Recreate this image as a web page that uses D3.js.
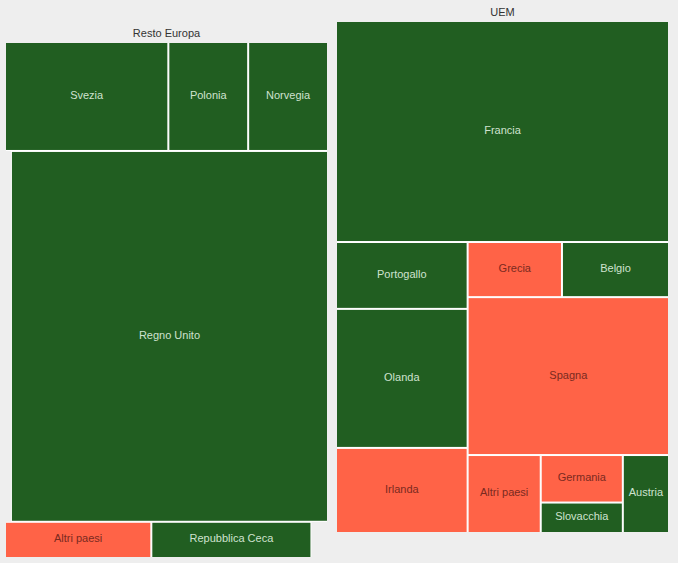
<!DOCTYPE html>
<html>
<head>
<meta charset="utf-8">
<title>Treemap</title>
<script src="https://cdn.jsdelivr.net/npm/d3@7"></script>
<style>
  body, html { margin: 0; padding: 0; background: #eeeeee; }
  svg { display: block; font-family: "Liberation Sans", Arial, sans-serif; }
  .titolo { font-size: 11px; fill: #333; }
  .etichetta { font-size: 11px; }
</style>
</head>
<body>
<svg id="chart" width="678" height="563"></svg>
<script>
// Resto Europa (null = spazio vuoto nel riquadro)
const restoPaesi = ["Svezia", "Polonia", "Norvegia", null, "Regno Unito", "Altri paesi", "Repubblica Ceca", null];
const restoValori = [17.8, 8.7, 8.7, 2.2, 117.6, 5.3, 5.8, 0.6];
const restoSegno = ["+", "+", "+", null, "+", "-", "+", null];

// UEM
const uemPaesi = ["Francia", "Portogallo", "Olanda", "Irlanda", "Grecia", "Belgio", "Spagna", "Altri paesi", "Germania", "Slovacchia", "Austria"];
const uemValori = [73.6, 8.8, 18.3, 11.2, 5.2, 5.9, 31.8, 5.7, 3.9, 2.5, 3.6];
const uemSegno = ["+", "+", "+", "-", "-", "+", "-", "-", "-", "+", "+"];

const colori = { "+": "#215e21", "-": "#ff6347" };
const coloriTesto = { "+": "#cfe2cf", "-": "#7a2a1f" };

const svg = d3.select("#chart");

// each group gets its own box
const gruppi = [
  { nome: "Resto Europa", paesi: restoPaesi, valori: restoValori, segno: restoSegno, x: 5, y: 42, w: 323, h: 516 },
  { nome: "UEM", paesi: uemPaesi, valori: uemValori, segno: uemSegno, x: 336, y: 21, w: 333, h: 512 }
];

gruppi.forEach(function(gr) {
  var dati = {
    name: gr.nome,
    children: gr.paesi.map(function(p, i) {
      return { name: p, value: gr.valori[i], segno: gr.segno[i] };
    })
  };

  var root = d3.hierarchy(dati).sum(function(d) { return d.value || 0; });

  d3.treemap()
    .tile(d3.treemapSquarify)
    .size([gr.w, gr.h])(root);

  var g = svg.append("g").attr("transform", "translate(" + gr.x + "," + gr.y + ")");

  g.append("text")
    .attr("class", "titolo")
    .attr("x", gr.w / 2)
    .attr("y", -5)
    .attr("text-anchor", "middle")
    .text(gr.nome);

  var foglie = root.leaves().filter(function(d) { return d.data.name; });

  // white lines between cells only (not on the outer edge)
  g.selectAll("rect.fondo")
    .data(foglie)
    .enter().append("rect")
    .attr("class", "fondo")
    .attr("x", function(d) { return Math.max(d.x0, 1); })
    .attr("y", function(d) { return Math.max(d.y0, 1); })
    .attr("width", function(d) { return Math.min(d.x1, gr.w - 1) - Math.max(d.x0, 1); })
    .attr("height", function(d) { return Math.min(d.y1, gr.h - 1) - Math.max(d.y0, 1); })
    .attr("fill", "#fff");

  var celle = g.selectAll("g.cella")
    .data(foglie)
    .enter().append("g")
    .attr("class", "cella");

  celle.append("rect")
    .attr("x", function(d) { return d.x0 + 1; })
    .attr("y", function(d) { return d.y0 + 1; })
    .attr("width", function(d) { return d.x1 - d.x0 - 2; })
    .attr("height", function(d) { return d.y1 - d.y0 - 2; })
    .attr("fill", function(d) { return colori[d.data.segno]; });

  celle.append("text")
    .attr("class", "etichetta")
    .attr("x", function(d) { return (d.x0 + d.x1) / 2; })
    .attr("y", function(d) { return (d.y0 + d.y1) / 2; })
    .attr("dy", "0.22em")
    .attr("text-anchor", "middle")
    .attr("fill", function(d) { return coloriTesto[d.data.segno]; })
    .text(function(d) { return d.data.name; });
});
</script>
</body>
</html>
